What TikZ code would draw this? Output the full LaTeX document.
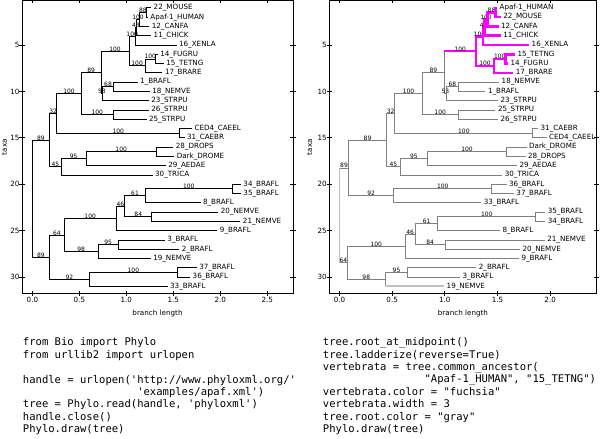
\documentclass[tikz,border=0pt]{standalone}
\usepackage{fontspec}
\setmainfont{DejaVu Sans}
\setmonofont{DejaVu Sans Mono}
\usepackage{xcolor}
\usepackage{tikz}
\usetikzlibrary{positioning, calc}
\definecolor{fucsia}{RGB}{255,0,255}
\definecolor{gris}{RGB}{128,128,128}
\definecolor{grisclaro}{RGB}{192,192,192}
\newcommand\codetab[1]{\hspace*{#1\fontcharwd\font`\x}}
\tikzset{
  eje/.style={line width=0.6pt, draw=black},
  marca/.style={line width=0.5pt, draw=black},
  etiq/.style={inner sep=0pt, font=\fontsize{5.1}{6}\selectfont},
  titulo/.style={inner sep=0pt, font=\fontsize{5.1}{6}\selectfont},
  rama/.style={line width=0.6pt, draw=black},
  ramagris/.style={line width=0.6pt, draw=gris},
  ramavert/.style={line width=1.8pt, draw=fucsia},
  ramaclara/.style={line width=1.3pt, draw=grisclaro},
  hoja/.style={anchor=west, inner xsep=1.6pt, inner ysep=0pt, font=\fontsize{5.1}{6}\selectfont},
  apoyo/.style={anchor=base, inner sep=0pt, font=\fontsize{4.25}{5}\selectfont},
  codigo/.style={anchor=north west, inner sep=0pt, align=left, font=\ttfamily\fontsize{7.5}{8.86}\selectfont}
}
\begin{document}
\begin{tikzpicture}[x=0.025cm, y=-0.025cm]
  \useasboundingbox (0,0) rectangle (600,439);

  \begin{scope}[shift={(32.4,-1.4)}, x=2.3475cm, y=-0.232cm]
    \draw[eje] (-0.111,0.2) rectangle (2.775,31.8);
    \foreach \xx/\s [count=\i] in {0/0.0,0.5/0.5,1/1.0,1.5/1.5,2/2.0,2.5/2.5} {
      \draw[marca] (\xx,31.8) ++(0,1.9pt) -- ++(0,-3.8pt);
      \draw[marca] (\xx,0.2) ++(0,1.9pt) -- ++(0,-3.8pt);
      \node[etiq, below=2.1pt] (ejexizq\i) at (\xx,31.8) {\s};
    }
    \foreach \ty in {5,10,...,30} {
      \draw[marca] (-0.111,\ty) ++(-1.9pt,0) -- ++(3.8pt,0);
      \draw[marca] (2.775,\ty) ++(-1.9pt,0) -- ++(3.8pt,0);
      \node[etiq, left=1.6pt] (ejeyizq\ty) at (-0.111,\ty) {\ty};
    }
    \node[titulo] (largoizq) at (1.332,33.88) {branch length};
    \node[titulo, rotate=90] (taxaizq) at (-0.297,16) {taxa};

    \coordinate (lraiz) at (0,21.55);
    \coordinate (lA) at (0.18,15.24); \coordinate (lB) at (0.18,27.86);
    \coordinate (l32) at (0.26,12.36); \coordinate (l45) at (0.31,18.125);
    \coordinate (l100b) at (0.52,10.23); \coordinate (lcae) at (1.57,14.5);
    \coordinate (l89a) at (0.73,7.95); \coordinate (lstr) at (0.86,12.5);
    \coordinate (lvert) at (1.03,5.656); \coordinate (l53) at (0.75,10.25);
    \coordinate (ltet) at (1.095,4.0625); \coordinate (lfish) at (1.20,7.25);
    \coordinate (l43) at (1.11,3.125); \coordinate (l100a) at (1.14,2.25);
    \coordinate (l88) at (1.215,1.5); \coordinate (lfish2) at (1.31,6.5);
    \coordinate (l68) at (0.86,9.5);
    \coordinate (l95a) at (0.57,17.25); \coordinate (ldro) at (1.32,16.5);
    \coordinate (l64) at (0.34,25.47); \coordinate (l92) at (0.61,30.25);
    \coordinate (l100c) at (0.89,23.69); \coordinate (l98) at (0.70,27.25);
    \coordinate (l46) at (0.985,22.375); \coordinate (l61) at (1.20,21.25);
    \coordinate (l84) at (1.27,23.5); \coordinate (l3435) at (2.13,20.5);
    \coordinate (l95b) at (0.915,26.5); \coordinate (l3637) at (1.54,29.5);

    \node[hoja] (lMOUSE) at (1.265,1) {22\_MOUSE};
    \node[hoja] (lHUMAN) at (1.23,2) {Apaf-1\_HUMAN};
    \node[hoja] (lCANFA) at (1.245,3) {12\_CANFA};
    \node[hoja] (lCHICK) at (1.265,4) {11\_CHICK};
    \node[hoja] (lXENLA) at (1.535,5) {16\_XENLA};
    \node[hoja] (lFUGRU) at (1.335,6) {14\_FUGRU};
    \node[hoja] (lTETNG) at (1.40,7) {15\_TETNG};
    \node[hoja] (lBRARE) at (1.385,8) {17\_BRARE};
    \node[hoja] (lBRAFL1) at (1.12,9) {1\_BRAFL};
    \node[hoja] (lNEMVE18) at (1.25,10) {18\_NEMVE};
    \node[hoja] (lSTRPU23) at (1.24,11) {23\_STRPU};
    \node[hoja] (lSTRPU26) at (1.24,12) {26\_STRPU};
    \node[hoja] (lSTRPU25) at (1.215,13) {25\_STRPU};
    \node[hoja] (lCAEEL) at (1.70,14) {CED4\_CAEEL};
    \node[hoja] (lCAEBR) at (1.62,15) {31\_CAEBR};
    \node[hoja] (lDROPS) at (1.50,16) {28\_DROPS};
    \node[hoja] (lDROME) at (1.51,17) {Dark\_DROME};
    \node[hoja] (lAEDAE) at (1.42,18) {29\_AEDAE};
    \node[hoja] (lTRICA) at (1.28,19) {30\_TRICA};
    \node[hoja] (lBRAFL34) at (2.22,20) {34\_BRAFL};
    \node[hoja] (lBRAFL35) at (2.22,21) {35\_BRAFL};
    \node[hoja] (lBRAFL8) at (1.79,22) {8\_BRAFL};
    \node[hoja] (lNEMVE20) at (1.98,23) {20\_NEMVE};
    \node[hoja] (lNEMVE21) at (2.215,24) {21\_NEMVE};
    \node[hoja] (lBRAFL9) at (1.97,25) {9\_BRAFL};
    \node[hoja] (lBRAFL3) at (1.41,26) {3\_BRAFL};
    \node[hoja] (lBRAFL2) at (1.565,27) {2\_BRAFL};
    \node[hoja] (lNEMVE19) at (1.26,28) {19\_NEMVE};
    \node[hoja] (lBRAFL37) at (1.75,29) {37\_BRAFL};
    \node[hoja] (lBRAFL36) at (1.68,30) {36\_BRAFL};
    \node[hoja] (lBRAFL33) at (1.44,31) {33\_BRAFL};

    \foreach \pa/\hi/\val in {lraiz/lA/89, lraiz/lB/89, lA/l32/32, lA/l45/45, l32/l100b/100, l32/lcae/100,
        l100b/l89a/89, l100b/lstr/100, l89a/lvert/100, l89a/l53/53, lvert/ltet/100, lvert/lfish/100,
        ltet/l43/43, l43/l100a/100, l100a/l88/88, lfish/lfish2/100, l53/l68/68, l45/l95a/95,
        l95a/ldro/100, lB/l64/64, lB/l92/92, l64/l100c/100, l64/l98/98, l100c/l46/46, l46/l61/61,
        l46/l84/84, l61/l3435/100, l98/l95b/95, l92/l3637/100}
      \draw[rama] (\pa) |- (\hi) node[apoyo, pos=.75] (s\hi) {\val};
    \foreach \pa/\hi in {ltet/lXENLA, l43/lCHICK, l100a/lCANFA, l88/lMOUSE, l88/lHUMAN, lfish/lBRARE,
        lfish2/lFUGRU, lfish2/lTETNG, l53/lSTRPU23, l68/lBRAFL1, l68/lNEMVE18, lstr/lSTRPU26,
        lstr/lSTRPU25, lcae/lCAEEL, lcae/lCAEBR, l45/lTRICA, l95a/lAEDAE, ldro/lDROPS, ldro/lDROME,
        l100c/lBRAFL9, l61/lBRAFL8, l3435/lBRAFL34, l3435/lBRAFL35, l84/lNEMVE20, l84/lNEMVE21,
        l98/lNEMVE19, l95b/lBRAFL3, l95b/lBRAFL2, l92/lBRAFL33, l3637/lBRAFL37, l3637/lBRAFL36}
      \draw[rama] (\pa) |- (\hi.west);
  \end{scope}

  \begin{scope}[shift={(339.5,-1.4)}, x=2.6325cm, y=-0.232cm]
    \draw[eje] (-0.0977,0.2) rectangle (2.4425,31.8);
    \foreach \xx/\s [count=\i] in {0/0.0,0.5/0.5,1/1.0,1.5/1.5,2/2.0} {
      \draw[marca] (\xx,31.8) ++(0,1.9pt) -- ++(0,-3.8pt);
      \draw[marca] (\xx,0.2) ++(0,1.9pt) -- ++(0,-3.8pt);
      \node[etiq, below=2.1pt] (ejexder\i) at (\xx,31.8) {\s};
    }
    \foreach \ty in {5,10,...,30} {
      \draw[marca] (-0.0977,\ty) ++(-1.9pt,0) -- ++(3.8pt,0);
      \draw[marca] (2.4425,\ty) ++(-1.9pt,0) -- ++(3.8pt,0);
      \node[etiq, left=1.6pt] (ejeyder\ty) at (-0.0977,\ty) {\ty};
    }
    \node[titulo] (largoder) at (1.172,33.88) {branch length};
    \node[titulo, rotate=90] (taxader) at (-0.283,16) {taxa};

    \coordinate (rraiz) at (0,23.36);
    \coordinate (rX) at (0.086,18.245); \coordinate (rY) at (0.074,28.47);
    \coordinate (rA) at (0.446,15.24); \coordinate (r92) at (0.516,21.25);
    \coordinate (r32) at (0.526,12.36); \coordinate (r45) at (0.576,18.125);
    \coordinate (r100b) at (0.786,10.23); \coordinate (rcae) at (1.836,14.5);
    \coordinate (r89a) at (0.996,7.95); \coordinate (rstr) at (1.126,12.5);
    \coordinate (rvert) at (1.296,5.656); \coordinate (r53) at (1.016,10.25);
    \coordinate (rtet) at (1.361,4.0625); \coordinate (rfish) at (1.466,7.25);
    \coordinate (r43) at (1.376,3.125); \coordinate (r100a) at (1.406,2.25);
    \coordinate (r88) at (1.481,1.5); \coordinate (rfish2) at (1.576,6.5);
    \coordinate (r68) at (1.126,9.5);
    \coordinate (r95a) at (0.836,17.25); \coordinate (rdro) at (1.586,16.5);
    \coordinate (r3637) at (1.446,20.5);
    \coordinate (r100c) at (0.624,26.69); \coordinate (r98) at (0.434,30.25);
    \coordinate (r46) at (0.719,25.375); \coordinate (r61) at (0.934,24.25);
    \coordinate (r84) at (1.004,26.5); \coordinate (r3435) at (1.864,23.5);
    \coordinate (r95b) at (0.649,29.5);

    \node[hoja] (rHUMAN) at (1.496,1) {Apaf-1\_HUMAN};
    \node[hoja] (rMOUSE) at (1.531,2) {22\_MOUSE};
    \node[hoja] (rCANFA) at (1.511,3) {12\_CANFA};
    \node[hoja] (rCHICK) at (1.531,4) {11\_CHICK};
    \node[hoja] (rXENLA) at (1.801,5) {16\_XENLA};
    \node[hoja] (rTETNG) at (1.666,6) {15\_TETNG};
    \node[hoja] (rFUGRU) at (1.601,7) {14\_FUGRU};
    \node[hoja] (rBRARE) at (1.651,8) {17\_BRARE};
    \node[hoja] (rNEMVE18) at (1.516,9) {18\_NEMVE};
    \node[hoja] (rBRAFL1) at (1.386,10) {1\_BRAFL};
    \node[hoja] (rSTRPU23) at (1.506,11) {23\_STRPU};
    \node[hoja] (rSTRPU25) at (1.481,12) {25\_STRPU};
    \node[hoja] (rSTRPU26) at (1.506,13) {26\_STRPU};
    \node[hoja] (rCAEBR) at (1.886,14) {31\_CAEBR};
    \node[hoja] (rCAEEL) at (1.966,15) {CED4\_CAEEL};
    \node[hoja] (rDROME) at (1.776,16) {Dark\_DROME};
    \node[hoja] (rDROPS) at (1.766,17) {28\_DROPS};
    \node[hoja] (rAEDAE) at (1.686,18) {29\_AEDAE};
    \node[hoja] (rTRICA) at (1.546,19) {30\_TRICA};
    \node[hoja] (rBRAFL36) at (1.586,20) {36\_BRAFL};
    \node[hoja] (rBRAFL37) at (1.656,21) {37\_BRAFL};
    \node[hoja] (rBRAFL33) at (1.346,22) {33\_BRAFL};
    \node[hoja] (rBRAFL35) at (1.954,23) {35\_BRAFL};
    \node[hoja] (rBRAFL34) at (1.954,24) {34\_BRAFL};
    \node[hoja] (rBRAFL8) at (1.524,25) {8\_BRAFL};
    \node[hoja] (rNEMVE21) at (1.949,26) {21\_NEMVE};
    \node[hoja] (rNEMVE20) at (1.714,27) {20\_NEMVE};
    \node[hoja] (rBRAFL9) at (1.704,28) {9\_BRAFL};
    \node[hoja] (rBRAFL2) at (1.299,29) {2\_BRAFL};
    \node[hoja] (rBRAFL3) at (1.144,30) {3\_BRAFL};
    \node[hoja] (rNEMVE19) at (0.994,31) {19\_NEMVE};

    \foreach \pa/\hi/\val in {rraiz/rX/89, rraiz/rY/64, rX/rA/89, rX/r92/92, rA/r32/32, rA/r45/45,
        r32/r100b/100, r32/rcae/100, r100b/r89a/89, r100b/rstr/100, r89a/r53/53, r53/r68/68,
        r45/r95a/95, r95a/rdro/100, r92/r3637/100, rY/r100c/100, rY/r98/98, r100c/r46/46,
        r46/r61/61, r46/r84/84, r61/r3435/100, r98/r95b/95}
      \draw[ramagris] (\pa) |- (\hi) node[apoyo, pos=.75] (s\hi) {\val};
    \foreach \pa/\hi in {r53/rSTRPU23, r68/rNEMVE18, r68/rBRAFL1, rstr/rSTRPU25, rstr/rSTRPU26,
        rcae/rCAEBR, rcae/rCAEEL, r45/rTRICA, r95a/rAEDAE, rdro/rDROME, rdro/rDROPS, r92/rBRAFL33,
        r3637/rBRAFL36, r3637/rBRAFL37, r100c/rBRAFL9, r61/rBRAFL8, r3435/rBRAFL35, r3435/rBRAFL34,
        r84/rNEMVE21, r84/rNEMVE20, r95b/rBRAFL2, r95b/rBRAFL3, r98/rNEMVE19}
      \draw[ramagris] (\pa) |- (\hi.west);
    \draw[ramaclara] (rX -| rraiz) -- (rY -| rraiz);
    \draw[ramaclara] (r98 |- rNEMVE19.west) -- (rNEMVE19.west);

    \draw[ramagris] (r89a) -- (r89a |- rvert);
    \draw[ramavert] (r89a |- rvert) -- (rvert) node[apoyo, midway] (srvert) {100};
    \foreach \pa/\hi/\val in {rvert/rtet/100, rvert/rfish/100, rtet/r43/43, r43/r100a/100,
        r100a/r88/88, rfish/rfish2/100}
      \draw[ramavert] (\pa) |- (\hi) node[apoyo, pos=.75] (s\hi) {\val};
    \foreach \pa/\hi in {rtet/rXENLA, r43/rCHICK, r100a/rCANFA, r88/rHUMAN, r88/rMOUSE,
        rfish/rBRARE, rfish2/rTETNG, rfish2/rFUGRU}
      \draw[ramavert] (\pa) |- (\hi.west);
  \end{scope}

  \node[codigo] (codigoizq) at (22.7,337.3) {from Bio import Phylo\\
from urllib2 import urlopen\\[8.86pt]
handle = urlopen('http://www.phyloxml.org/'\\
\codetab{18}'examples/apaf.xml')\\
tree = Phylo.read(handle, 'phyloxml')\\
handle.close()\\
Phylo.draw(tree)};
  \node[codigo] (codigoder) at (322.7,337.3) {tree.root\_at\_midpoint()\\
tree.ladderize(reverse=True)\\
vertebrata = tree.common\_ancestor(\\
\codetab{16}"Apaf-1\_HUMAN", "15\_TETNG")\\
vertebrata.color = "fuchsia"\\
vertebrata.width = 3\\
tree.root.color = "gray"\\
Phylo.draw(tree)};
\end{tikzpicture}
\end{document}
